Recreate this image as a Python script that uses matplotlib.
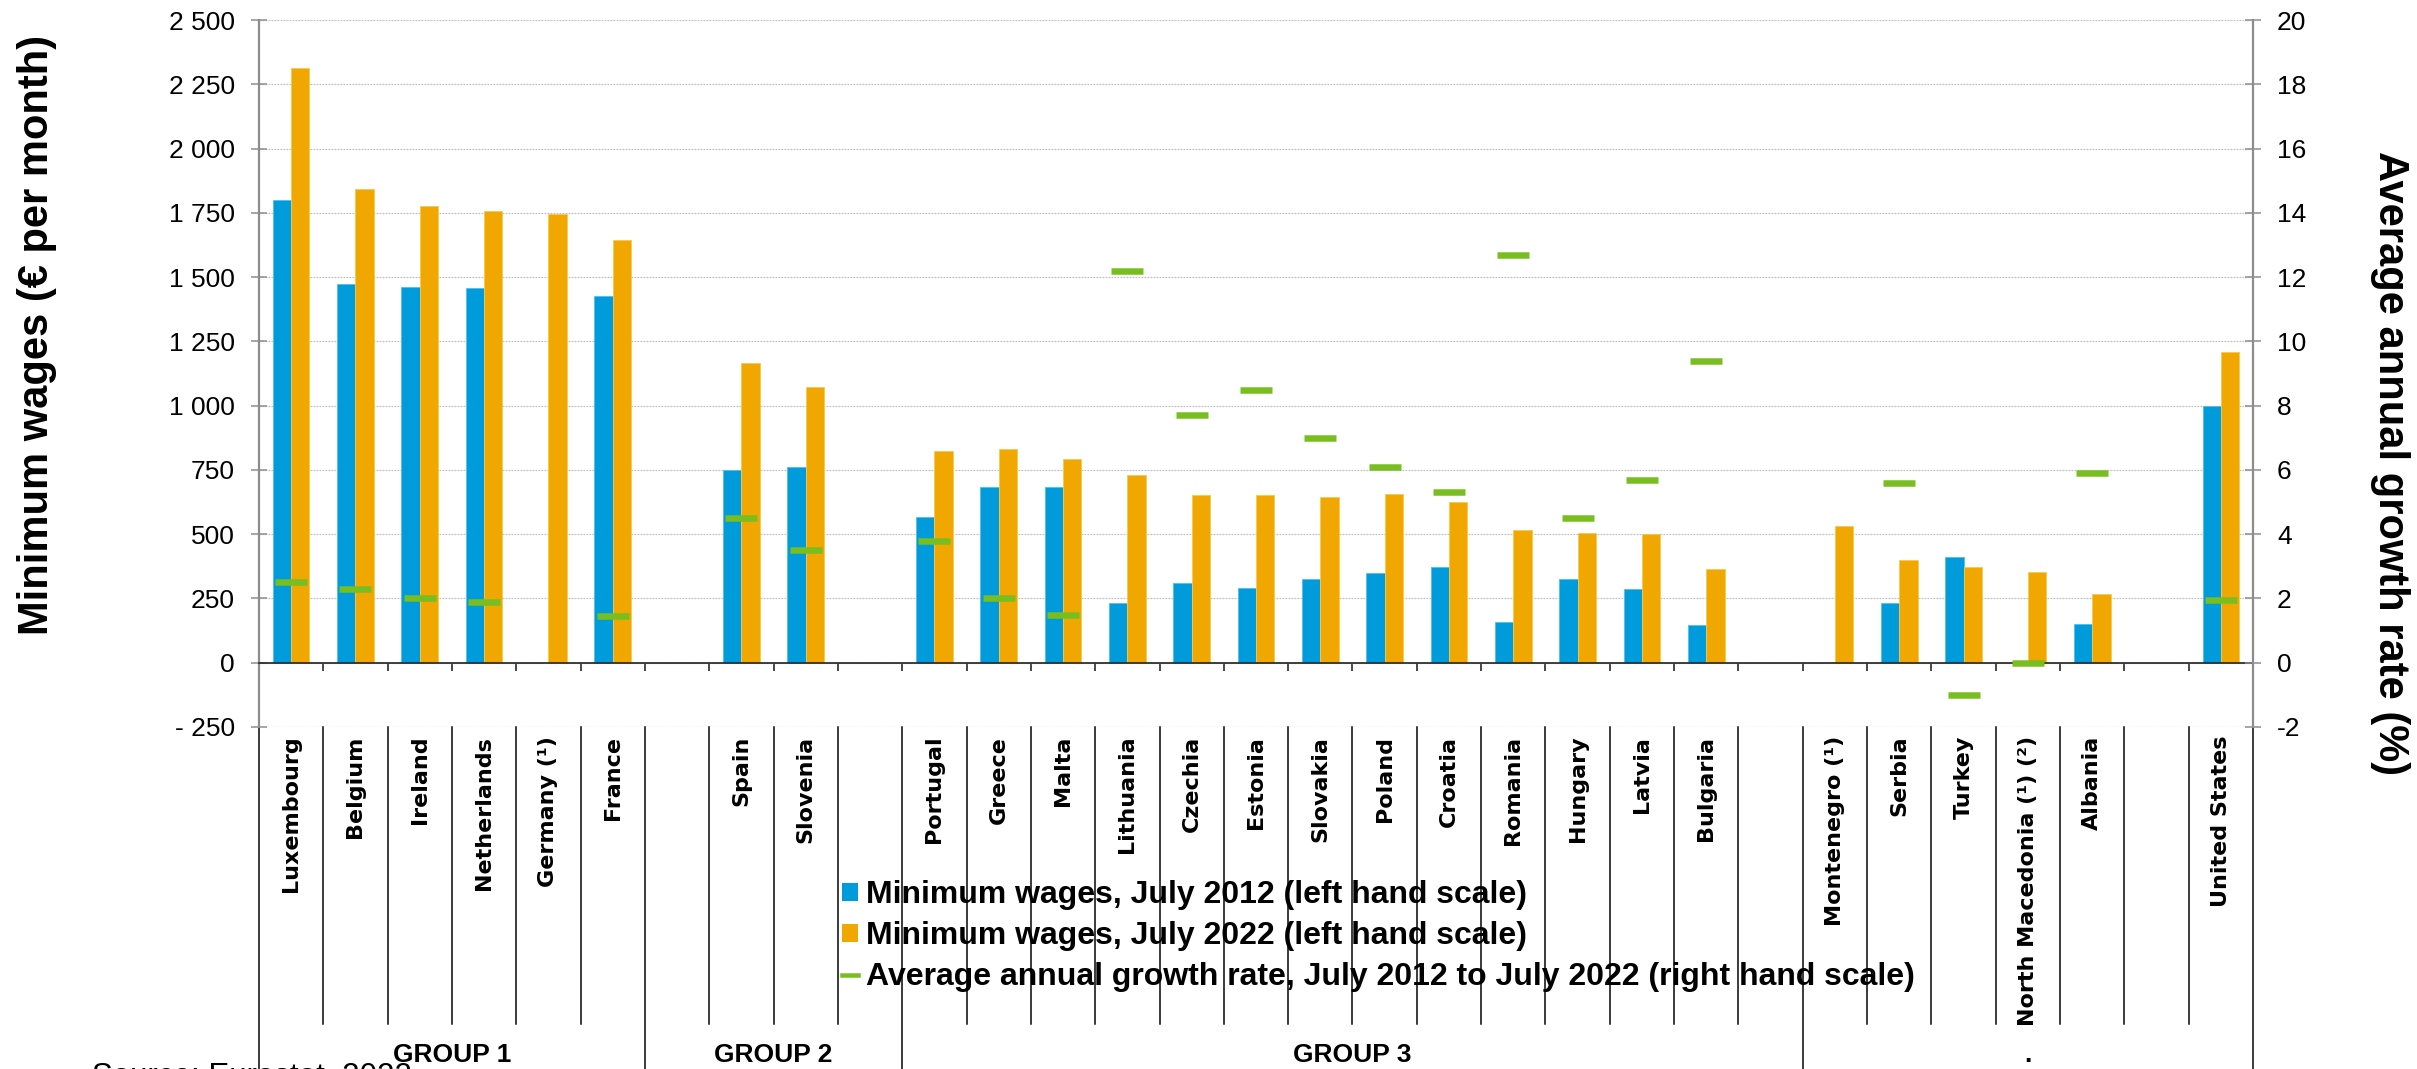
import numpy as np
import matplotlib
matplotlib.use("Agg")
import matplotlib.pyplot as plt
from matplotlib.patches import Patch
from matplotlib.lines import Line2D
from matplotlib.font_manager import FontProperties
from matplotlib.transforms import blended_transform_factory

nan = np.nan

# ---------------- data ----------------
categories = ["Luxembourg", "Belgium", "Ireland", "Netherlands", "Germany (¹)", "France", "",
              "Spain", "Slovenia", "",
              "Portugal", "Greece", "Malta", "Lithuania", "Czechia", "Estonia", "Slovakia",
              "Poland", "Croatia", "Romania", "Hungary", "Latvia", "Bulgaria", "",
              "Montenegro (¹)", "Serbia", "Turkey", "North Macedonia (¹) (²)", "Albania", "",
              "United States"]
wages_2012 = [1801, 1473, 1462, 1456, nan, 1425, nan,
              748, 763, nan,
              566, 683, 685, 232, 310, 290, 327, 350, 372, 157, 325, 286, 148, nan,
              nan, 233, 412, nan, 150, nan,
              1000]
wages_2022 = [2313, 1842, 1775, 1756, 1744, 1645, nan,
              1167, 1074, nan,
              823, 832, 792, 730, 652, 654, 646, 655, 624, 515, 505, 500, 363, nan,
              532, 401, 371, 353, 267, nan,
              1210]
growth = [2.5, 2.3, 2.0, 1.9, nan, 1.45, nan,
          4.5, 3.5, nan,
          3.8, 2.0, 1.5, 12.2, 7.7, 8.5, 7.0, 6.1, 5.3, 12.7, 4.5, 5.7, 9.4, nan,
          nan, 5.6, -1.0, 0.0, 5.9, nan,
          1.95]
group_labels = ["GROUP 1", "GROUP 2", "GROUP 3", "."]
group_sizes = [6, 4, 14, 7]
left_ticks = [-250, 0, 250, 500, 750, 1000, 1250, 1500, 1750, 2000, 2250, 2500]
left_ticklabels = ["- 250", "0", "250", "500", "750", "1 000", "1 250", "1 500",
                   "1 750", "2 000", "2 250", "2 500"]
right_ticks = [-2, 0, 2, 4, 6, 8, 10, 12, 14, 16, 18, 20]
right_ticklabels = ["-2", "0", "2", "4", "6", "8", "10", "12", "14", "16", "18", "20"]
legend_labels = ["Minimum wages, July 2012 (left hand scale)",
                 "Minimum wages, July 2022 (left hand scale)",
                 "Average annual growth rate, July 2012 to July 2022 (right hand scale)"]
ylabel_left = "Minimum wages (€ per month)"
ylabel_right = "Average annual growth rate (%)"
source_text = "Source: Eurostat, 2022"

# ---------------- style ----------------
BLUE = "#009BDB"
ORANGE = "#F0A800"
GREEN = "#78BE20"
GRAY = "#8C8C8C"

W, H = 2417, 1069
DPI = 100
PX = 72.0 / DPI  # points per pixel

def fx(px):
    return px / W

def fy(py):
    return 1 - py / H

fig = plt.figure(figsize=(W / DPI, H / DPI), dpi=DPI)
ax_left, ax_right, ax_top, ax_bottom = 259, 2253, 20, 727
ax = fig.add_axes([fx(ax_left), fy(ax_bottom), (ax_right - ax_left) / W, (ax_bottom - ax_top) / H])
ax2 = ax.twinx()

n = len(categories)
x = np.arange(n) + 0.5
bw = 0.285

ax.bar(x - bw / 2, wages_2012, width=bw, color=BLUE, edgecolor="#4FC0EC", linewidth=0.6, zorder=2)
ax.bar(x + bw / 2, wages_2022, width=bw, color=ORANGE, edgecolor="#F7C850", linewidth=0.6, zorder=2)
ax2.plot(x, growth, linestyle="none", marker="_", markersize=32 * PX,
         markeredgewidth=6.5 * PX, color=GREEN, zorder=3)

ax.set_xlim(0, n)
ax.set_ylim(-250, 2500)
ax2.set_ylim(-2, 20)

tick_font = FontProperties(family=["Liberation Sans", "DejaVu Sans"], size=19)
cat_font = FontProperties(family=["DejaVu Sans"], weight="bold", size=16)

ax.set_yticks(left_ticks)
ax.set_yticklabels(left_ticklabels, fontproperties=tick_font)
ax2.set_yticks(right_ticks)
ax2.set_yticklabels(right_ticklabels, fontproperties=tick_font)
ax.tick_params(axis="y", direction="inout", length=16 * PX, width=1.5 * PX, color=GRAY,
               pad=16 * PX, labelcolor="black")
ax2.tick_params(axis="y", direction="inout", length=16 * PX, width=1.5 * PX, color=GRAY,
                pad=16 * PX, labelcolor="black")

ax.grid(axis="y", color="#BEBEBE", linestyle=(0, (1.5, 1)), linewidth=1.2 * PX)
ax.set_axisbelow(True)

for s in ["top", "right"]:
    ax.spines[s].set_visible(False)
for s in ["top", "left", "bottom"]:
    ax2.spines[s].set_visible(False)
ax.spines["left"].set_color(GRAY)
ax.spines["left"].set_linewidth(2.2 * PX)
ax2.spines["right"].set_color(GRAY)
ax2.spines["right"].set_linewidth(2.2 * PX)
ax.spines["bottom"].set_position(("data", 0))
ax.spines["bottom"].set_color("#303030")
ax.spines["bottom"].set_linewidth(1.8 * PX)
ax.spines["bottom"].set_zorder(4)

# category labels (major ticks at centres) + boundary tick marks (minor)
ax.set_xticks(x)
ax.set_xticklabels(categories, rotation=90, fontproperties=cat_font, va="top", ha="center")
ax.set_xticks(np.arange(n + 1), minor=True)
ax.tick_params(axis="x", which="major", length=0, pad=73 * PX)
ax.tick_params(axis="x", which="minor", direction="out", length=8 * PX, width=1.6 * PX,
               color="#202020")

# separators in the label area
axes_h = ax_bottom - ax_top
trans = blended_transform_factory(ax.transData, ax.transAxes)
y_sep_end = -(1024 - ax_bottom) / axes_h
y_grp_end = -(H + 5 - ax_bottom) / axes_h
group_bounds = np.concatenate([[0], np.cumsum(group_sizes)])
for b in np.arange(n + 1):
    yend = y_grp_end if b in group_bounds else y_sep_end
    ax.plot([b, b], [0, yend], color="black", linewidth=1.5 * PX, transform=trans,
            clip_on=False, zorder=1)

# group labels
grp_font = FontProperties(family=["Liberation Sans", "DejaVu Sans"], weight="bold", size=19)
for lab, a, b in zip(group_labels, group_bounds[:-1], group_bounds[1:]):
    ax.text((a + b) / 2, -(1062 - ax_bottom) / axes_h, lab, transform=trans,
            ha="center", va="baseline", fontproperties=grp_font, clip_on=False)

# axis titles
ttl_font = FontProperties(family=["Liberation Sans", "DejaVu Sans"], weight="bold", size=30)
fig.text(fx(37), fy(335), ylabel_left, rotation=90, ha="center", va="center",
         fontproperties=ttl_font)
fig.text(fx(2390), fy(463), ylabel_right, rotation=270, ha="center", va="center",
         fontproperties=ttl_font)

# legend
handles = [Patch(facecolor=BLUE, edgecolor="none"),
           Patch(facecolor=ORANGE, edgecolor="none"),
           Line2D([], [], color=GREEN, linewidth=4.5 * PX)]
leg_font = FontProperties(family=["Liberation Sans", "DejaVu Sans"], weight="bold", size=23)
fig.legend(handles, legend_labels, loc="upper left", bbox_to_anchor=(fx(842), fy(880)),
           bbox_transform=fig.transFigure, frameon=False, borderpad=0, borderaxespad=0,
           handlelength=0.5, handleheight=0.5, handletextpad=0.25, labelspacing=0.35,
           prop=leg_font)

# source note (mostly below the visible area, as in the reference)
fig.text(fx(92), fy(1085), source_text, ha="left", va="baseline",
         fontproperties=FontProperties(family=["Liberation Sans", "DejaVu Sans"], size=22.5))

fig.savefig("out.png", dpi=DPI)
